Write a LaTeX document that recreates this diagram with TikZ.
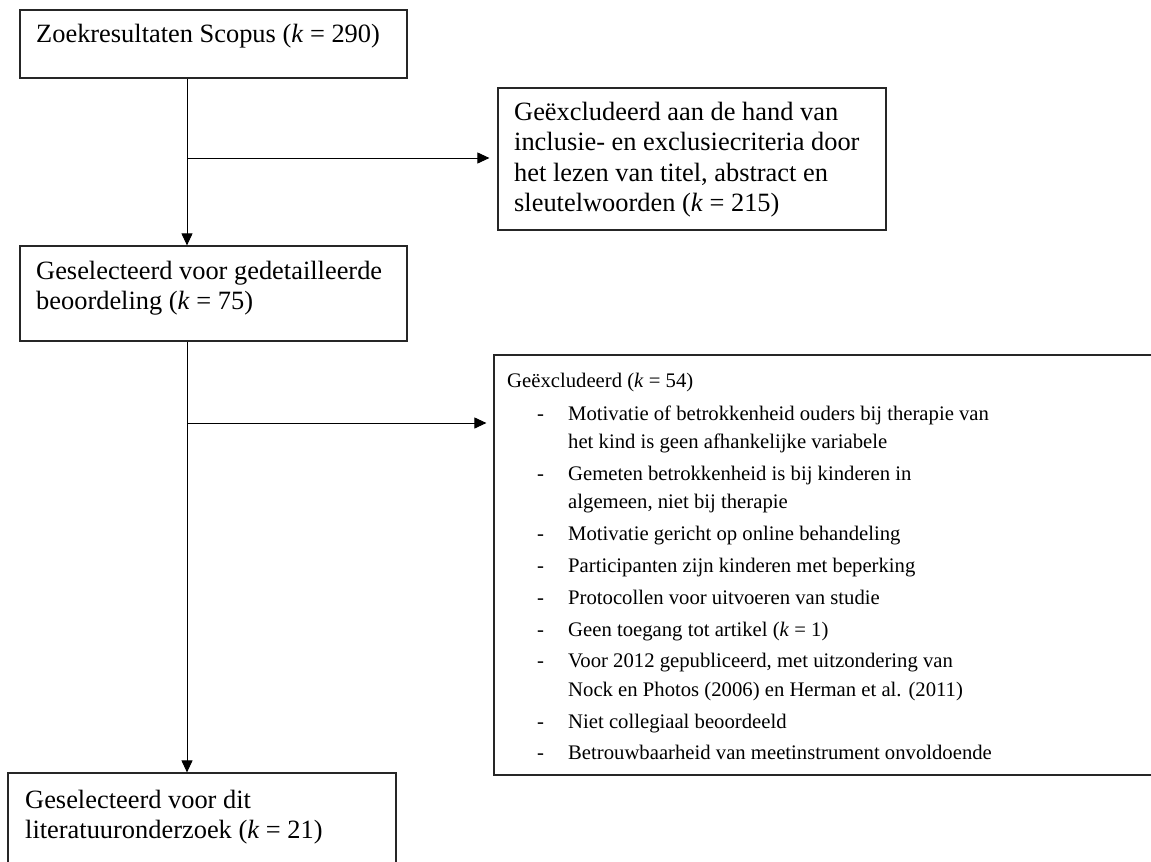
\documentclass[tikz,border=0pt]{standalone}
\usepackage{fontspec}
\setmainfont{Liberation Serif}
\usetikzlibrary{arrows.meta}
\tikzset{
  box/.style={draw=black!85, line width=1.2bp, inner sep=0pt, rectangle},
  big/.style={anchor=base west, inner sep=0pt, font=\fontsize{26.4bp}{30.5bp}\selectfont},
  small/.style={anchor=base west, inner sep=0pt, font=\fontsize{20.7bp}{28.5bp}\selectfont},
  arr/.style={line width=1bp, -{Triangle[length=12bp,width=11bp]}},
}
\newcommand{\kk}{\textit{k}}
\begin{document}
\begin{tikzpicture}[x=1bp,y=-1bp]
\useasboundingbox (0,0) rectangle (1151,862);
\clip (0,0) rectangle (1151,862);
\fill[white] (0,0) rectangle (1151,862);
% boxes
\node[box, minimum width=387bp, minimum height=68bp] (b1) at (213.5,44) {};
\node[box, minimum width=387bp, minimum height=95bp] (b2) at (213.5,293.5) {};
\node[box, minimum width=388bp, minimum height=142bp] (b3) at (692,159) {};
\node[box, minimum width=388bp, minimum height=167bp] (b4) at (202,856.5) {};
\node[box, minimum width=776bp, minimum height=420bp] (b5) at (882,565) {};
% texts
\node[big] (t1) at (36,42) {Zoekresultaten Scopus (\kk{} = 290)};
\node[big] (t2) at (36,279) {\begin{tabular}[t]{@{}l@{}}Geselecteerd voor gedetailleerde\\beoordeling (\kk{} = 75)\end{tabular}};
\node[big] (t3) at (514,120) {\begin{tabular}[t]{@{}l@{}}Geëxcludeerd aan de hand van\\inclusie- en exclusiecriteria door\\het lezen van titel, abstract en\\sleutelwoorden (\kk{} = 215)\end{tabular}};
\node[big] (t4) at (25,808) {\begin{tabular}[t]{@{}l@{}}Geselecteerd voor dit\\literatuuronderzoek (\kk{} = 21)\end{tabular}};
\node[small] (t5) at (507,387) {\begin{tabular}[t]{@{}p{61bp}@{}l@{}}
\multicolumn{2}{@{}l@{}}{Geëxcludeerd (\kk{} = 54)}\\[4.5bp]
\hspace*{30bp}- & Motivatie of betrokkenheid ouders bij therapie van\\
 & het kind is geen afhankelijke variabele\\[3.3bp]
\hspace*{30bp}- & Gemeten betrokkenheid is bij kinderen in\\
 & algemeen, niet bij therapie\\[3.3bp]
\hspace*{30bp}- & Motivatie gericht op online behandeling\\[3.3bp]
\hspace*{30bp}- & Participanten zijn kinderen met beperking\\[3.3bp]
\hspace*{30bp}- & Protocollen voor uitvoeren van studie\\[3.3bp]
\hspace*{30bp}- & Geen toegang tot artikel (\kk{} = 1)\\[3.3bp]
\hspace*{30bp}- & Voor 2012 gepubliceerd, met uitzondering van\\
 & Nock en Photos (2006) en Herman et al. (2011)\\[3.3bp]
\hspace*{30bp}- & Niet collegiaal beoordeeld\\[3.3bp]
\hspace*{30bp}- & Betrouwbaarheid van meetinstrument onvoldoende
\end{tabular}};
% connectors
\coordinate (j1) at (187,158);
\coordinate (j2) at (187,423);
\draw[arr] (b1.south -| j1) -- (b2.north -| j1);
\draw[arr, shorten >=8bp] (j1) -- (b3.west |- j1);
\draw[arr] (b2.south -| j2) -- (b4.north -| j2);
\draw[arr, shorten >=7bp] (j2) -- (b5.west |- j2);
\end{tikzpicture}
\end{document}
